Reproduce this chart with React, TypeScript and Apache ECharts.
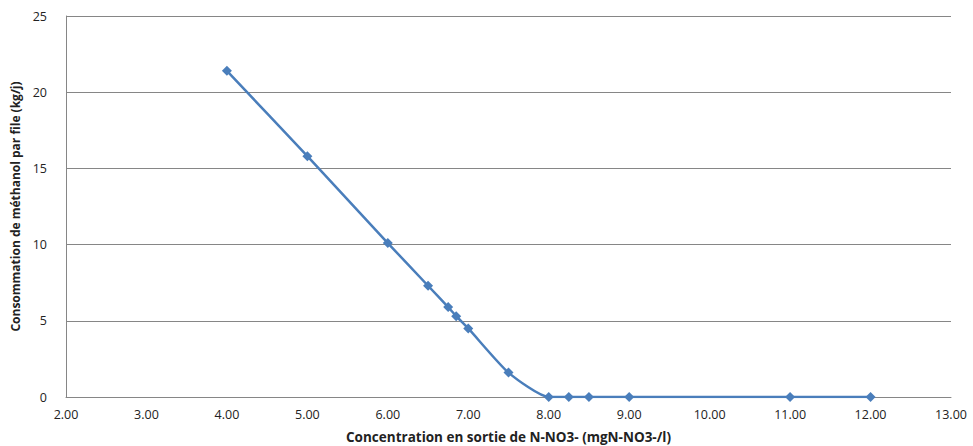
import React, { useEffect, useRef } from "react";
import * as echarts from "echarts";

const xValues = [4, 5, 6, 6.5, 6.75, 6.85, 7, 7.5, 8, 8.25, 8.5, 9, 11, 12];
const yValues = [21.4, 15.8, 10.1, 7.3, 5.9, 5.3, 4.5, 1.6, 0, 0, 0, 0, 0, 0];
const xTitle = "Concentration en sortie de N-NO3- (mgN-NO3-/l)";
const yTitle = "Consommation de méthanol par file (kg/j)";

export default function App() {
  const ref = useRef<HTMLDivElement>(null);
  useEffect(() => {
    if (!ref.current) return;
    const chart = echarts.init(ref.current, undefined, { renderer: "svg" });
    const font = "'Open Sans', 'Liberation Sans', sans-serif";
    chart.setOption({
      animation: false,
      backgroundColor: "#ffffff",
      grid: {
        left: 66,
        right: 22,
        top: 16,
        bottom: 49,
        containLabel: false,
        outerBoundsMode: "none",
      },
      xAxis: {
        type: "value",
        min: 2,
        max: 13,
        interval: 1,
        name: xTitle,
        nameLocation: "middle",
        nameGap: 33,
        nameTextStyle: { fontFamily: font, fontSize: 13.5, fontWeight: "bold", color: "#222" },
        axisLine: { show: true, lineStyle: { color: "#868686", width: 1 } },
        axisTick: { show: false },
        splitLine: { show: false },
        axisLabel: {
          fontFamily: font,
          fontSize: 12.5,
          color: "#222",
          margin: 11,
          formatter: (v: number) => v.toFixed(2),
        },
      },
      yAxis: {
        type: "value",
        min: 0,
        max: 25,
        interval: 5,
        name: yTitle,
        nameLocation: "middle",
        nameGap: 38,
        nameTextStyle: { fontFamily: font, fontSize: 12, fontWeight: "bold", color: "#222" },
        axisLine: { show: true, lineStyle: { color: "#868686", width: 1 } },
        axisTick: { show: false },
        splitLine: { show: true, lineStyle: { color: "#868686", width: 1 } },
        axisLabel: { fontFamily: font, fontSize: 12.5, color: "#222", margin: 19 },
      },
      series: [
        {
          type: "line",
          data: xValues.map((x, i) => [x, yValues[i]]),
          smooth: 0.2,
          symbol: "diamond",
          symbolSize: 10,
          itemStyle: { color: "#4a7ebb" },
          lineStyle: { color: "#4a7ebb", width: 2.5 },
        },
      ],
    });
    return () => chart.dispose();
  }, []);
  return (
    <div
      ref={ref}
      style={{ position: "fixed", left: 0, top: 0, width: 973, height: 446 }}
    />
  );
}
